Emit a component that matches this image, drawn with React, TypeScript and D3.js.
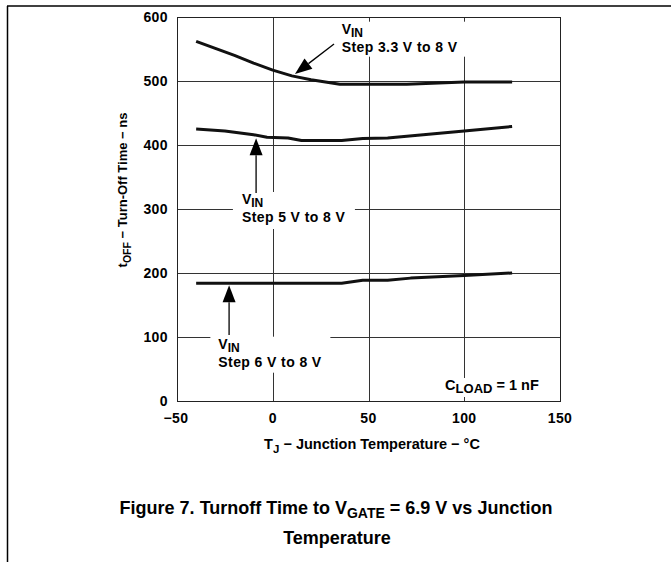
import * as d3 from 'd3'

const xTicks = [-50, 0, 50, 100, 150]
const yTicks = [0, 100, 200, 300, 400, 500, 600]

// t_OFF (ns) vs junction temperature (°C), one array pair per V_IN step
const tempStep33 = [-40, -30, -20, -10, 0, 10, 20, 35, 70, 100, 125]
const toffStep33 = [562, 551, 540, 528, 517, 508, 502, 495, 495, 498.5, 498.5]
const tempStep5 = [-40, -25, -10, -3, 8, 15, 36, 47, 60, 100, 125]
const toffStep5 = [425, 422, 416, 412, 411, 407, 407, 410, 411, 422, 429]
const tempStep6 = [-40, 36, 47, 60, 72, 100, 125]
const toffStep6 = [184, 184, 188.5, 188.5, 192, 196, 200]

const seriesList = [
  { temps: tempStep33, toff: toffStep33 },
  { temps: tempStep5, toff: toffStep5 },
  { temps: tempStep6, toff: toffStep6 },
]

// callouts, anchored in data units
const annotations = [
  { label: 'Step 3.3 V to 8 V', at: [36, 545.8], from: [32, 557.8], to: [11.6, 511], box: [-4, -30, 140, 35] },
  { label: 'Step 5 V to 8 V', at: [-16.1, 279.7], from: [-8.7, 325], to: [-8.7, 410.5], box: [-9, -30, 122, 37] },
  { label: 'Step 6 V to 8 V', at: [-28.4, 53.6], from: [-22.8, 103], to: [-22.8, 181], box: [-8, -30, 120, 36] },
]

const W = 671
const H = 562
const font = '"Liberation Sans", Arial, Helvetica, sans-serif'

const x = d3.scaleLinear().domain([-50, 150]).range([177, 560])
const y = d3.scaleLinear().domain([0, 600]).range([401, 17])

const crisp = (v: number) => Math.round(v) + 0.5

function arrowHead(x1: number, y1: number, x2: number, y2: number) {
  const len = 17
  const half = 6.5
  const dx = x2 - x1
  const dy = y2 - y1
  const d = Math.hypot(dx, dy)
  const ux = dx / d
  const uy = dy / d
  const bx = x2 - ux * len
  const by = y2 - uy * len
  return {
    base: [bx, by],
    points: `${x2},${y2} ${bx - uy * half},${by + ux * half} ${bx + uy * half},${by - ux * half}`,
  }
}

export default function App() {
  const line = d3.line<[number, number]>()
    .x(d => x(d[0]))
    .y(d => y(d[1]))

  const [x0, x1] = x.range()
  const [y0, y1] = y.range()

  return (
    <svg width={W} height={H} style={{ position: 'absolute', left: 0, top: 0, background: '#fff' }}
      fontFamily={font} fontWeight="bold">
      {/* page frame */}
      <line x1={7} x2={W} y1={6} y2={6} stroke="#000" strokeWidth={1.5} />
      <line x1={7.5} x2={7.5} y1={6} y2={H} stroke="#000" strokeWidth={1.5} />

      {/* grid */}
      {yTicks.map(t => (
        <line key={'gy' + t} x1={x0} x2={x1} y1={crisp(y(t))} y2={crisp(y(t))} stroke="#333" strokeWidth={1} />
      ))}
      {xTicks.map(t => (
        <line key={'gx' + t} x1={crisp(x(t))} x2={crisp(x(t))} y1={y0} y2={y1} stroke="#333" strokeWidth={1} />
      ))}

      {/* white label boxes that cut the grid */}
      {annotations.map((a, i) => (
        <rect key={'box' + i} x={x(a.at[0]) + a.box[0]} y={y(a.at[1]) + a.box[1]}
          width={a.box[2]} height={a.box[3]} fill="#fff" />
      ))}
      <rect x={x(90) - 5} y={y(17.2) - 12} width={110} height={19} fill="#fff" />

      {/* plot frame */}
      <rect x={crisp(x0)} y={crisp(y1)} width={Math.round(x1 - x0)} height={Math.round(y0 - y1)}
        fill="none" stroke="#222" strokeWidth={1} />

      {/* curves */}
      {seriesList.map((s, i) => (
        <path key={'s' + i} d={line(s.temps.map((t, j) => [t, s.toff[j]] as [number, number])) || ''}
          fill="none" stroke="#111" strokeWidth={3} strokeLinejoin="round" />
      ))}

      {/* tick labels */}
      {yTicks.map(t => (
        <text key={'ty' + t} x={168} y={y(t) + 4.8} textAnchor="end" fontSize={14} letterSpacing={0.4}>{t}</text>
      ))}
      {xTicks.map(t => (
        <text key={'tx' + t} x={x(t) + (t < 0 ? -1 : 0)} y={423} textAnchor="middle" fontSize={14} letterSpacing={0.4}>
          {t < 0 ? '\u2212' + Math.abs(t) : t}
        </text>
      ))}

      {/* axis titles */}
      <text x={372} y={449} textAnchor="middle" fontSize={14.5}>
        T<tspan dy={3.5} fontSize={11.5}>J</tspan><tspan dy={-3.5}> − Junction Temperature − °C</tspan>
      </text>
      <text transform="translate(127,190) rotate(-90)" textAnchor="middle" fontSize={13}>
        t<tspan dy={3.5} fontSize={10.5}>OFF</tspan><tspan dy={-3.5}> − Turn-Off Time − ns</tspan>
      </text>

      {/* callouts */}
      {annotations.map((a, i) => {
        const fx = x(a.from[0]), fy = y(a.from[1])
        const tx = x(a.to[0]), ty = y(a.to[1])
        const head = arrowHead(fx, fy, tx, ty)
        const ax = x(a.at[0]), ay = y(a.at[1])
        return (
          <g key={'a' + i}>
            <line x1={fx} y1={fy} x2={head.base[0]} y2={head.base[1]} stroke="#000" strokeWidth={1.3} />
            <polygon points={head.points} fill="#000" />
            <text x={ax} y={ay - 18} fontSize={14}>
              V<tspan dy={3.5} fontSize={12}>IN</tspan>
            </text>
            <text x={ax} y={ay} fontSize={14} letterSpacing={0.4}>{a.label}</text>
          </g>
        )
      })}

      <text x={x(90)} y={y(17.2)} fontSize={14.5}>
        C<tspan dy={3.5} fontSize={13}>LOAD</tspan><tspan dy={-3.5}> = 1 nF</tspan>
      </text>

      {/* caption */}
      <text x={336} y={514} textAnchor="middle" fontSize={18}>
        Figure 7. Turnoff Time to V<tspan dy={4} fontSize={14}>GATE</tspan><tspan dy={-4}> = 6.9 V vs Junction</tspan>
      </text>
      <text x={337} y={544} textAnchor="middle" fontSize={18}>Temperature</text>
    </svg>
  )
}
